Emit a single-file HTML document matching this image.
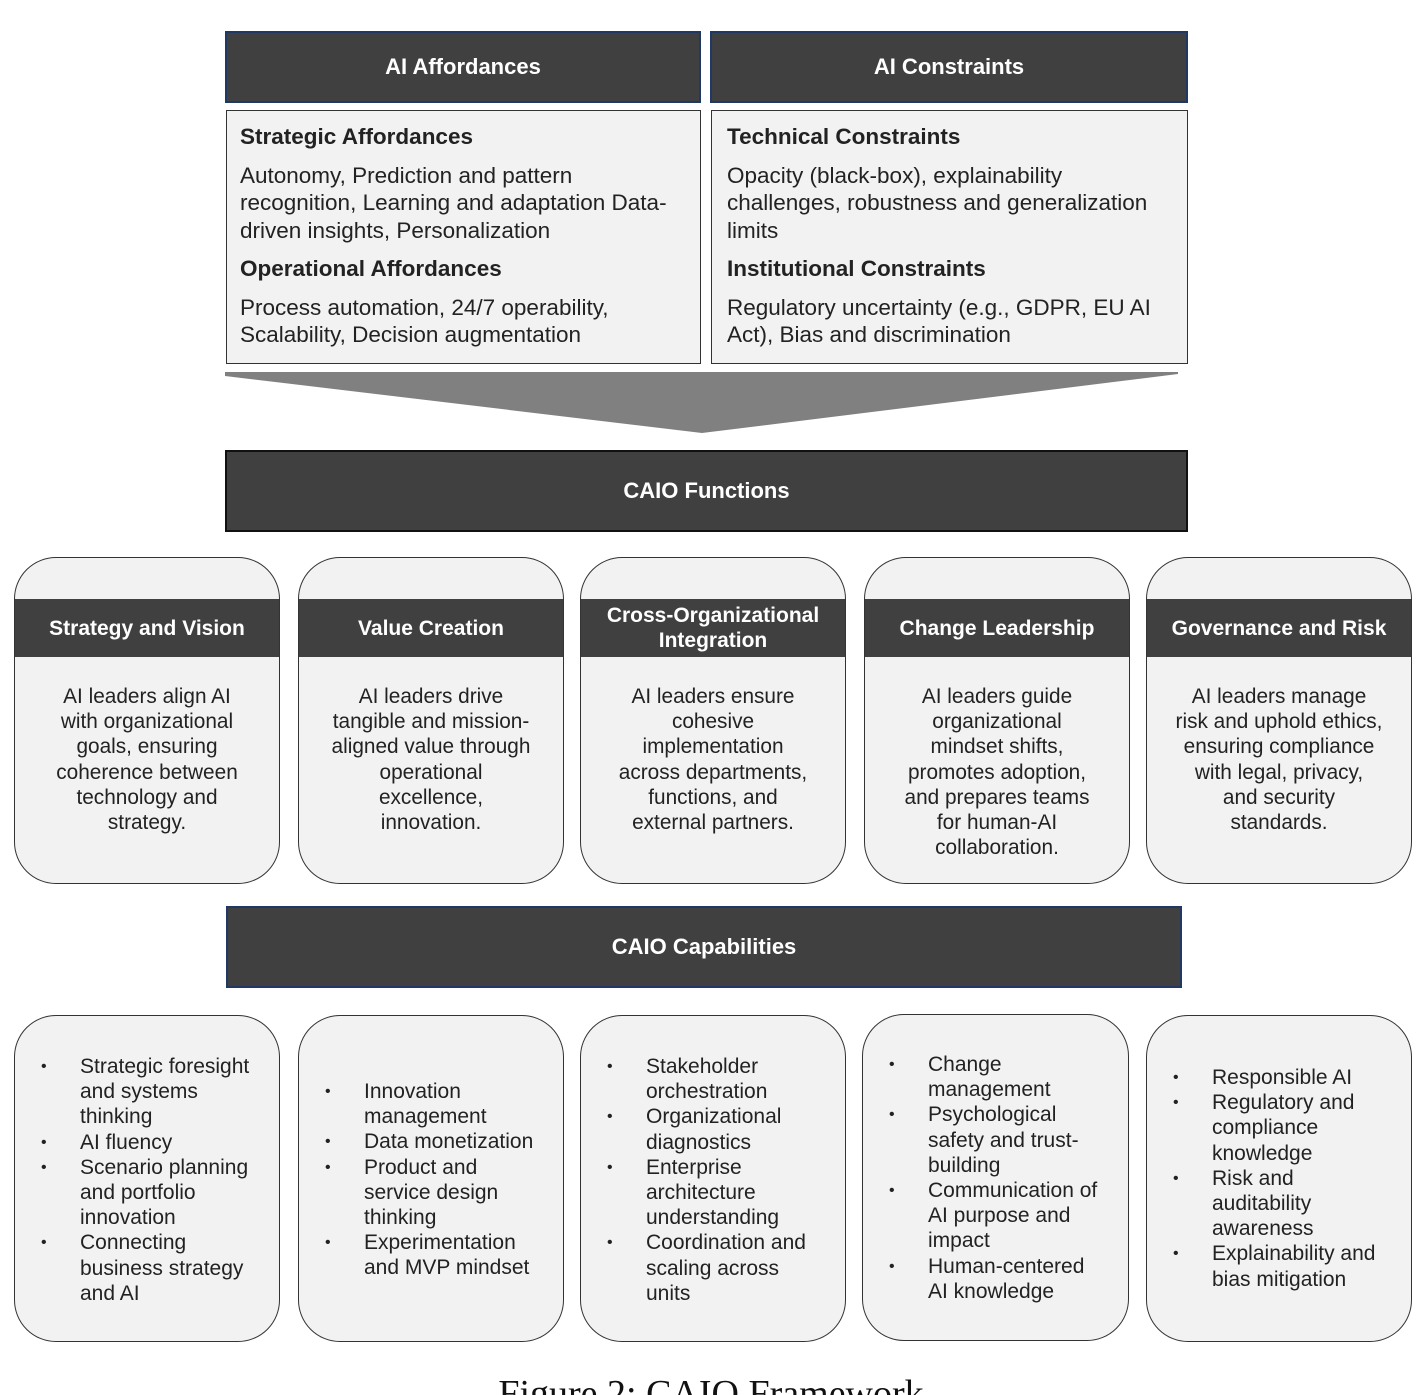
<!DOCTYPE html>
<html><head><meta charset="utf-8"><style>
*{margin:0;padding:0;box-sizing:border-box}
html,body{width:1422px;height:1395px;overflow:hidden}
body{background:#fff;position:relative;font-family:"Liberation Sans",Arial,sans-serif;color:#222}
.a{position:absolute}
.hd{background:#404040;color:#fff;font-weight:bold;display:flex;align-items:center;justify-content:center;font-size:22px}
.box{background:#f2f2f2;border:1.5px solid #333;font-size:22.5px;line-height:27.5px;padding:10px 0 0 13px}
.box b{display:block;margin:2px 0 11px}
.card{background:#f2f2f2;border:1.5px solid #333;border-radius:42px;overflow:hidden}
.band{position:absolute;left:0;right:0;top:41px;height:58px;background:#404040;color:#fff;font-weight:bold;font-size:21px;display:flex;align-items:center;justify-content:center;text-align:center;line-height:25px}
.ft{position:absolute;left:0;right:0;top:126px;text-align:center;font-size:20.8px;line-height:25.2px;color:#222}
ul{list-style:none;position:absolute;left:0;font-size:21px;line-height:25.2px}
li{position:relative;padding-left:65px}
li:before{content:"•";position:absolute;left:26px;font-size:16px}
</style></head><body>
<div class="a hd" style="left:225px;top:31px;width:476px;height:72px;border:2px solid #1f3864">AI Affordances</div>
<div class="a hd" style="left:710px;top:31px;width:478px;height:72px;border:2px solid #1f3864">AI Constraints</div>
<div class="a box" style="left:226px;top:110px;width:475px;height:254px"><b>Strategic Affordances</b>Autonomy, Prediction and pattern<br>recognition, Learning and adaptation Data-<br>driven insights, Personalization<b style="margin-top:11px">Operational Affordances</b>Process automation, 24/7 operability,<br>Scalability, Decision augmentation</div>
<div class="a box" style="left:711px;top:110px;width:477px;height:254px;padding-left:15px"><b>Technical Constraints</b>Opacity (black-box), explainability<br>challenges, robustness and generalization<br>limits<b style="margin-top:11px">Institutional Constraints</b>Regulatory uncertainty (e.g., GDPR, EU AI<br>Act), Bias and discrimination</div>
<svg class="a" style="left:0;top:0" width="1422" height="450"><polygon points="225,372 1178,372 1178,374 702,433 225,376" fill="#808080"/></svg>
<div class="a hd" style="left:225px;top:450px;width:963px;height:82px;border:2px solid #111">CAIO Functions</div>

<div class="a card" style="left:14px;top:557px;width:266px;height:327px"><div class="band">Strategy and Vision</div><div class="ft">AI leaders align AI<br>with organizational<br>goals, ensuring<br>coherence between<br>technology and<br>strategy.</div></div>
<div class="a card" style="left:298px;top:557px;width:266px;height:327px"><div class="band">Value Creation</div><div class="ft">AI leaders drive<br>tangible and mission-<br>aligned value through<br>operational<br>excellence,<br>innovation.</div></div>
<div class="a card" style="left:580px;top:557px;width:266px;height:327px"><div class="band">Cross-Organizational<br>Integration</div><div class="ft">AI leaders ensure<br>cohesive<br>implementation<br>across departments,<br>functions, and<br>external partners.</div></div>
<div class="a card" style="left:864px;top:557px;width:266px;height:327px"><div class="band">Change Leadership</div><div class="ft">AI leaders guide<br>organizational<br>mindset shifts,<br>promotes adoption,<br>and prepares teams<br>for human-AI<br>collaboration.</div></div>
<div class="a card" style="left:1146px;top:557px;width:266px;height:327px"><div class="band">Governance and Risk</div><div class="ft">AI leaders manage<br>risk and uphold ethics,<br>ensuring compliance<br>with legal, privacy,<br>and security<br>standards.</div></div>

<div class="a hd" style="left:226px;top:906px;width:956px;height:82px;border:2px solid #1f3864">CAIO Capabilities</div>

<div class="a card" style="left:14px;top:1015px;width:266px;height:327px"><ul style="top:38px"><li>Strategic foresight<br>and systems<br>thinking</li><li>AI fluency</li><li>Scenario planning<br>and portfolio<br>innovation</li><li>Connecting<br>business strategy<br>and AI</li></ul></div>
<div class="a card" style="left:298px;top:1015px;width:266px;height:327px"><ul style="top:63px"><li>Innovation<br>management</li><li>Data monetization</li><li>Product and<br>service design<br>thinking</li><li>Experimentation<br>and MVP mindset</li></ul></div>
<div class="a card" style="left:580px;top:1015px;width:266px;height:327px"><ul style="top:38px"><li>Stakeholder<br>orchestration</li><li>Organizational<br>diagnostics</li><li>Enterprise<br>architecture<br>understanding</li><li>Coordination and<br>scaling across<br>units</li></ul></div>
<div class="a card" style="left:862px;top:1014px;width:267px;height:327px"><ul style="top:37px"><li>Change<br>management</li><li>Psychological<br>safety and trust-<br>building</li><li>Communication of<br>AI purpose and<br>impact</li><li>Human-centered<br>AI knowledge</li></ul></div>
<div class="a card" style="left:1146px;top:1015px;width:266px;height:327px"><ul style="top:49px"><li>Responsible AI</li><li>Regulatory and<br>compliance<br>knowledge</li><li>Risk and<br>auditability<br>awareness</li><li>Explainability and<br>bias mitigation</li></ul></div>

<div class="a" style="left:0;width:1422px;top:1375px;text-align:center;font-family:'Liberation Serif',serif;font-size:38px;line-height:38px;color:#111">Figure 2: CAIO Framework</div>
</body></html>
